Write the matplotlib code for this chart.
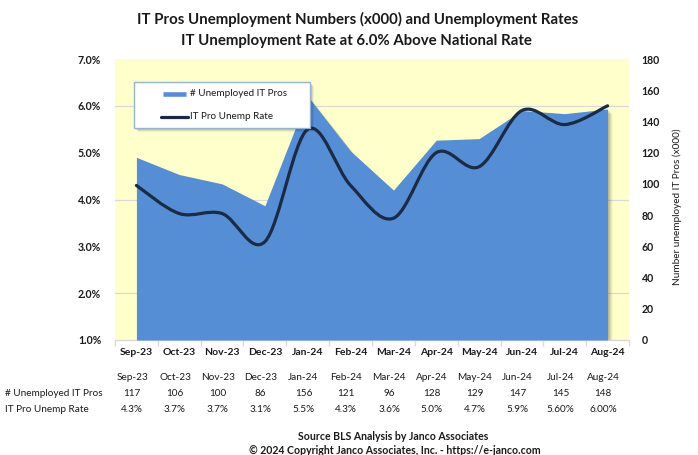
import matplotlib
matplotlib.use('Agg')
import matplotlib.pyplot as plt
import matplotlib.transforms as mtransforms
from matplotlib.path import Path
from matplotlib.patches import PathPatch, Rectangle
from matplotlib.lines import Line2D
import numpy as np

# ---------------- data ----------------
months = ['Sep-23', 'Oct-23', 'Nov-23', 'Dec-23', 'Jan-24', 'Feb-24',
          'Mar-24', 'Apr-24', 'May-24', 'Jun-24', 'Jul-24', 'Aug-24']
unemployed = [117, 106, 100, 86, 156, 121, 96, 128, 129, 147, 145, 148]
rate = [4.3, 3.7, 3.7, 3.1, 5.5, 4.3, 3.6, 5.0, 4.7, 5.9, 5.6, 6.0]
rate_labels = ['4.3%', '3.7%', '3.7%', '3.1%', '5.5%', '4.3%', '3.6%',
               '5.0%', '4.7%', '5.9%', '5.60%', '6.00%']
left_ticks = [1, 2, 3, 4, 5, 6, 7]
right_ticks = [0, 20, 40, 60, 80, 100, 120, 140, 160, 180]
title1 = 'IT Pros Unemployment Numbers (x000) and Unemployment Rates'
title2 = 'IT Unemployment Rate at 6.0% Above National Rate'
series_area = '# Unemployed IT Pros'
series_line = 'IT Pro Unemp Rate'
right_label = 'Number unemployed IT Pros (x000)'
source1 = 'Source BLS Analysis by Janco Associates'
source2 = '\u00a9 2024 Copyright Janco Associates, Inc. - https://e-janco.com'

plt.rcParams['font.family'] = ['Lato', 'DejaVu Sans']

AREA = '#558ED5'
LINE = '#1B2A45'
BG = '#FFFFCC'
GRID = '#D9D9D9'
TXT = '#1a1a1a'

W, H = 698, 455
fig = plt.figure(figsize=(W / 100, H / 100), dpi=100)
fig.patch.set_facecolor('white')

def fx(px):
    return px / W

def fy(py):
    return 1 - py / H

L, R, T, B = 115, 629, 59, 340
ax = fig.add_axes([fx(L), fy(B), fx(R - L), (B - T) / H])
ax2 = ax.twinx()

x = np.arange(len(months))
ax.set_xlim(-0.5, len(months) - 0.5)
ax.set_ylim(0, 180)
ax2.set_ylim(1, 7)
ax.set_facecolor(BG)

# gridlines aligned to the left (%) axis
ax.set_yticks([0, 30, 60, 90, 120, 150, 180], minor=True)
ax.grid(which='minor', axis='y', color=GRID, lw=0.9, zorder=0)
ax.set_axisbelow(True)

# area with a soft shadow
poly_x = np.concatenate([x, x[::-1]])
poly_y = np.concatenate([unemployed, np.zeros(len(x))])
for d, a in [(5, 0.06), (4, 0.08), (3, 0.10), (2, 0.12)]:
    tr = mtransforms.offset_copy(ax.transData, fig=fig, x=d, y=-d, units='dots')
    ax.fill(poly_x, poly_y, color='#3a3a20', alpha=a, lw=0, transform=tr, zorder=2)
ax.fill_between(x, 0, unemployed, color=AREA, lw=0, zorder=3)

# smoothed line (Bezier through data points)
pts = np.column_stack([x, rate]).astype(float)
n = len(pts)
verts = [tuple(pts[0])]
codes = [Path.MOVETO]
for i in range(n - 1):
    p_prev = pts[max(i - 1, 0)]
    p0 = pts[i]
    p1 = pts[i + 1]
    p_next = pts[min(i + 2, n - 1)]
    c1 = p0 + (p1 - p_prev) / 6.0
    c2 = p1 - (p_next - p0) / 6.0
    verts += [tuple(c1), tuple(c2), tuple(p1)]
    codes += [Path.CURVE4] * 3
ax2.add_patch(PathPatch(Path(verts, codes), fill=False, ec=LINE, lw=2.3,
                        capstyle='round', joinstyle='round', zorder=5))

# axes styling
for s in ax.spines.values():
    s.set_visible(False)
for s in ax2.spines.values():
    s.set_visible(False)
ax.spines['bottom'].set_visible(True)
ax.spines['bottom'].set_color(GRID)
ax.spines['bottom'].set_linewidth(1.0)

ax.set_xticks(x)
ax.set_xticklabels(months, fontsize=7.5, fontweight='bold', color=TXT)
ax.set_xticks(np.arange(-0.5, len(months)), minor=True)
ax.tick_params(axis='x', which='major', length=0, pad=6)
ax.tick_params(axis='x', which='minor', length=4, color=GRID, width=1)

ax.yaxis.tick_right()
ax.set_yticks(right_ticks)
ax.set_yticklabels([str(v) for v in right_ticks], fontsize=7.6,
                   fontweight='bold', color=TXT)
ax.tick_params(axis='y', which='both', length=0, pad=9)

ax2.yaxis.tick_left()
ax2.set_yticks(left_ticks)
ax2.set_yticklabels(['%.1f%%' % v for v in left_ticks], fontsize=7.6,
                    fontweight='bold', color=TXT)
ax2.tick_params(axis='y', length=0, pad=10)

fig.text(fx(677), fy(207), right_label, rotation=90, ha='center',
         va='center', fontsize=7.2, color=TXT)

# titles
fig.text(fx(358), fy(19), title1, ha='center', va='center', fontsize=10.8,
         fontweight='bold', color=TXT)
fig.text(fx(356), fy(41), title2, ha='center', va='center', fontsize=10.8,
         fontweight='bold', color=TXT)

# legend (manual)
lx0, ly0, lx1, ly1 = 134, 82, 310, 128
for d, a in [(4, 0.06), (3, 0.08), (2, 0.10)]:
    fig.patches.append(Rectangle((fx(lx0 + d), fy(ly1 + d)), fx(lx1 - lx0),
                                 (ly1 - ly0) / H, transform=fig.transFigure,
                                 facecolor='#000000', alpha=a, lw=0, zorder=8))
fig.patches.append(Rectangle((fx(lx0), fy(ly1)), fx(lx1 - lx0),
                             (ly1 - ly0) / H, transform=fig.transFigure,
                             facecolor='white', edgecolor='#95B3D7', lw=1.0,
                             zorder=9))
fig.lines.append(Line2D([fx(163), fx(186)], [fy(94), fy(94)],
                        transform=fig.transFigure, color=AREA, lw=3.3,
                        solid_capstyle='butt', zorder=10))
fig.lines.append(Line2D([fx(161), fx(188)], [fy(116.7), fy(116.7)],
                        transform=fig.transFigure, color=LINE, lw=2.3,
                        solid_capstyle='round', zorder=10))
fig.text(fx(190), fy(94), series_area, ha='left', va='center', fontsize=7.1,
         color=TXT, zorder=11)
fig.text(fx(190), fy(116.7), series_line, ha='left', va='center', fontsize=7.1,
         color=TXT, zorder=11)

# data table below chart
btr = mtransforms.blended_transform_factory(ax.transData, fig.transFigure)
for i in range(len(months)):
    xc = i - 0.1
    fig.text(xc, fy(378), months[i], transform=btr, ha='center', va='center',
             fontsize=7.2, color=TXT)
    fig.text(xc, fy(393), str(unemployed[i]), transform=btr, ha='center',
             va='center', fontsize=7.2, color=TXT)
    fig.text(xc, fy(410), rate_labels[i], transform=btr, ha='center',
             va='center', fontsize=7.2, color=TXT)
fig.text(fx(5), fy(393), series_area, ha='left', va='center', fontsize=7.2,
         color=TXT)
fig.text(fx(5), fy(410), series_line, ha='left', va='center', fontsize=7.2,
         color=TXT)

fig.text(fx(393), fy(436), source1, ha='center', va='center', fontsize=7.6,
         fontweight='bold', color=TXT)
fig.text(fx(395), fy(450), source2, ha='center', va='center', fontsize=7.6,
         fontweight='bold', color=TXT)

fig.savefig('out.png', dpi=100, facecolor='white')
